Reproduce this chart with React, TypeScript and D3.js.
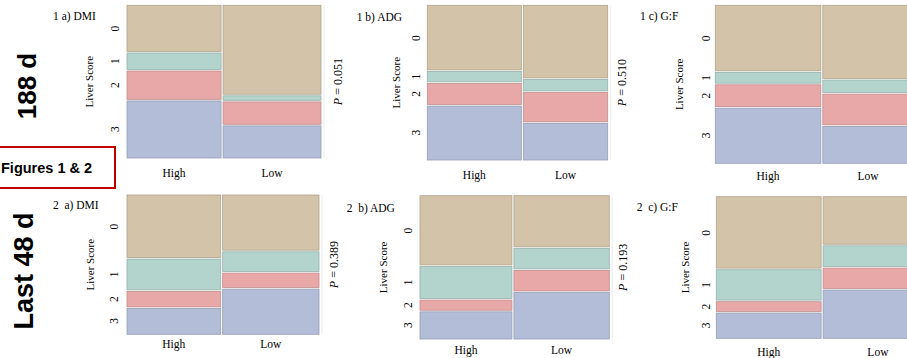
import React from "react";
import * as d3 from "d3";

// liver abscess scores, top (0) to bottom (3)
const scores = ["0", "1", "2", "3"];
const groups = ["High", "Low"];
const panelTitles = ["1 a) DMI", "1 b) ADG", "1 c) G:F", "2  a) DMI", "2  b) ADG", "2  c) G:F"];
const pValues = ["0.051", "0.510", null, "0.389", "0.193", null];

// share of the width taken by the High column
const highShares = [0.49, 0.527, 0.538, 0.493, 0.491, 0.489];

// proportion of each score within a column
const highProps = [
  [0.307, 0.118, 0.196, 0.379],
  [0.422, 0.077, 0.146, 0.353],
  [0.42, 0.078, 0.148, 0.354],
  [0.454, 0.233, 0.122, 0.191],
  [0.488, 0.234, 0.082, 0.195],
  [0.51, 0.226, 0.08, 0.184],
];
const lowProps = [
  [0.588, 0.04, 0.157, 0.216],
  [0.474, 0.084, 0.2, 0.241],
  [0.468, 0.089, 0.205, 0.238],
  [0.402, 0.153, 0.115, 0.33],
  [0.363, 0.154, 0.154, 0.33],
  [0.341, 0.157, 0.155, 0.346],
];

const rowLabels = ["188 d", "Last 48 d"];

const colors = ["#d2c3a9", "#b3d3cd", "#e8a8a8", "#b3bdd8"];

// where each panel sits on the page
const layout = [
  { x0: 127, x1: 321, y0: 5.3, y1: 158, titleX: 53, titleY: 20, ylabX: 93, tickX: 119, pX: 342, catY: 177 },
  { x0: 427.3, x1: 607.7, y0: 5.3, y1: 160, titleX: 356.7, titleY: 21, ylabX: 400, tickX: 420, pX: 626, catY: 179 },
  { x0: 715.3, x1: 913.3, y0: 5.3, y1: 163.3, titleX: 640, titleY: 20, ylabX: 683, tickX: 710, pX: 0, catY: 180 },
  { x0: 127, x1: 319, y0: 195, y1: 334.3, titleX: 53, titleY: 209, ylabX: 94, tickX: 118, pX: 338, catY: 348 },
  { x0: 420, x1: 609.3, y0: 195.7, y1: 339, titleX: 346.7, titleY: 211.5, ylabX: 386.7, tickX: 412, pX: 627, catY: 354 },
  { x0: 716.3, x1: 932.7, y0: 196.7, y1: 338.3, titleX: 636.7, titleY: 211, ylabX: 689, tickX: 710, pX: 0, catY: 356 },
];

const serif = "'Liberation Serif', 'Times New Roman', serif";
const sans = "'Liberation Sans', Arial, sans-serif";

function Mosaic({ i }: { i: number }) {
  const L = layout[i];
  const x = d3.scaleLinear().domain([0, 1]).range([L.x0, L.x1]);
  const y = d3.scaleLinear().domain([0, 1]).range([L.y0, L.y1]);
  const gap = 1;

  const cols = [highProps[i], lowProps[i]].map((props, g) => {
    const total = d3.sum(props);
    const norm = props.map((p) => p / total);
    const ends = Array.from(d3.cumsum(norm));
    const starts = [0, ...ends.slice(0, -1)];
    const from = g === 0 ? 0 : highShares[i];
    const to = g === 0 ? highShares[i] : 1;
    return {
      name: groups[g],
      left: x(from) + (g === 0 ? 0 : gap),
      right: x(to) - (g === 0 ? gap : 0),
      segs: norm.map((p, k) => ({ k, top: y(starts[k]), bottom: y(ends[k]) })),
    };
  });

  const yMid = (L.y0 + L.y1) / 2;

  return (
    <g>
      <text x={L.titleX} y={L.titleY} fontFamily={serif} fontSize={11.5} style={{ whiteSpace: "pre" }}>
        {panelTitles[i]}
      </text>
      <text
        transform={`translate(${L.ylabX},${yMid}) rotate(-90)`}
        textAnchor="middle"
        fontFamily={serif}
        fontSize={11}
      >
        Liver Score
      </text>
      {cols.map((c) => (
        <g key={c.name}>
          {c.segs.map((s) => (
            <rect
              key={s.k}
              x={c.left}
              y={s.top + (s.k === 0 ? 0 : 0.8)}
              width={c.right - c.left}
              height={Math.max(0, s.bottom - s.top - (s.k === 0 ? 0.8 : 1.6) + (s.k === 3 ? 0.8 : 0))}
              fill={colors[s.k]}
              stroke={d3.color(colors[s.k])!.darker(0.5).formatHex()}
              strokeWidth={0.8}
            />
          ))}
          <text
            x={(c.left + c.right) / 2}
            y={L.catY}
            textAnchor="middle"
            fontFamily={serif}
            fontSize={11.5}
          >
            {c.name}
          </text>
        </g>
      ))}
      {cols[0].segs.map((s) => (
        <text
          key={s.k}
          transform={`translate(${L.tickX},${(s.top + s.bottom) / 2}) rotate(-90)`}
          textAnchor="middle"
          fontFamily={serif}
          fontSize={11.5}
        >
          {scores[s.k]}
        </text>
      ))}
      <line x1={L.x1 + 3} x2={L.x1 + 3} y1={L.y0} y2={L.y1} stroke="#ececec" strokeWidth={1} />
      {pValues[i] && (
        <text
          transform={`translate(${L.pX},${yMid}) rotate(-90)`}
          textAnchor="middle"
          fontFamily={serif}
          fontSize={12}
        >
          <tspan fontStyle="italic">P</tspan>
          {` = ${pValues[i]}`}
        </text>
      )}
    </g>
  );
}

export default function App() {
  const width = 907;
  const height = 358;
  return (
    <svg
      width={width}
      height={height}
      style={{ position: "absolute", left: 0, top: 0, background: "#fff" }}
    >
      <rect width={width} height={height} fill="#fff" />
      {layout.map((_, i) => (
        <Mosaic key={i} i={i} />
      ))}
      <text
        transform="translate(36,86) rotate(-90)"
        textAnchor="middle"
        fontFamily={sans}
        fontWeight="bold"
        fontSize={26}
      >
        {rowLabels[0]}
      </text>
      <text
        transform="translate(33,271) rotate(-90)"
        textAnchor="middle"
        fontFamily={sans}
        fontWeight="bold"
        fontSize={27}
      >
        {rowLabels[1]}
      </text>
      <rect x={-6} y={147} width={121} height={41} fill="#fff" stroke="#c00000" strokeWidth={2} />
      <text x={1} y={173} fontFamily={sans} fontWeight="bold" fontSize={14.5}>
        Figures 1 &amp; 2
      </text>
    </svg>
  );
}
